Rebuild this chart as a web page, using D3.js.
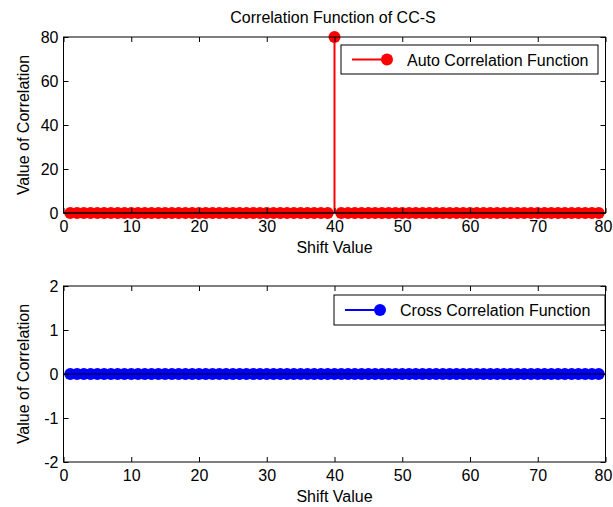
<!DOCTYPE html>
<html><head><meta charset="utf-8">
<script src="https://cdn.jsdelivr.net/npm/d3@7"></script>
<style>
html,body{margin:0;padding:0;background:#fff;}
svg{display:block;font-family:"Liberation Sans",Arial,sans-serif;}
</style></head>
<body>
<svg id="chart" width="613" height="507"></svg>
<script>
const shifts = [1,2,3,4,5,6,7,8,9,10,11,12,13,14,15,16,17,18,19,20,21,22,23,24,25,26,27,28,29,30,31,32,33,34,35,36,37,38,39,40,41,42,43,44,45,46,47,48,49,50,51,52,53,54,55,56,57,58,59,60,61,62,63,64,65,66,67,68,69,70,71,72,73,74,75,76,77,78,79];
const autoValues = [0,0,0,0,0,0,0,0,0,0,0,0,0,0,0,0,0,0,0,0,0,0,0,0,0,0,0,0,0,0,0,0,0,0,0,0,0,0,0,80,0,0,0,0,0,0,0,0,0,0,0,0,0,0,0,0,0,0,0,0,0,0,0,0,0,0,0,0,0,0,0,0,0,0,0,0,0,0,0];
const crossValues = [0,0,0,0,0,0,0,0,0,0,0,0,0,0,0,0,0,0,0,0,0,0,0,0,0,0,0,0,0,0,0,0,0,0,0,0,0,0,0,0,0,0,0,0,0,0,0,0,0,0,0,0,0,0,0,0,0,0,0,0,0,0,0,0,0,0,0,0,0,0,0,0,0,0,0,0,0,0,0];
const xTicks = [0,10,20,30,40,50,60,70,80];
const autoYTicks = [0,20,40,60,80];
const crossYTicks = [-2,-1,0,1,2];
const title = "Correlation Function of CC-S";
const xLabel = "Shift Value";
const yLabel = "Value of Correlation";
const autoLabel = "Auto Correlation Function";
const crossLabel = "Cross Correlation Function";

const svg = d3.select("#chart");
const FS = 16;
const FONT = "Liberation Sans, Arial, sans-serif";
const left = 63.5, right = 605.5;
const fmt = d => String(d);

function panel(cfg) {
  const x = d3.scaleLinear().domain([0, 80]).range([left, right]);
  const y = d3.scaleLinear().domain(cfg.yDomain).range([cfg.bottom, cfg.top]);
  const g = svg.append("g");
  const data = shifts.map((s, i) => ({x: s, y: cfg.values[i]}));

  // stems
  g.append("g").selectAll("line").data(data).join("line")
    .attr("x1", d => x(d.x)).attr("x2", d => x(d.x))
    .attr("y1", y(0)).attr("y2", d => y(d.y))
    .attr("stroke", cfg.color).attr("stroke-width", 2);
  // markers
  g.append("g").selectAll("circle").data(data).join("circle")
    .attr("cx", d => x(d.x)).attr("cy", d => y(d.y)).attr("r", 6)
    .attr("fill", cfg.color);
  // baseline
  g.append("line").attr("x1", x(0)).attr("x2", x(80))
    .attr("y1", y(0)).attr("y2", y(0))
    .attr("stroke", "#000").attr("stroke-width", 1);

  // axes (ticks inward)
  const ax = g.append("g");
  const bx = ax.append("g").attr("transform", `translate(0,${cfg.bottom})`)
    .call(d3.axisBottom(x).tickValues(xTicks).tickFormat(fmt).tickSizeInner(-5).tickSizeOuter(0).tickPadding(8));
  ax.append("g").attr("transform", `translate(0,${cfg.top})`)
    .call(d3.axisTop(x).tickValues(xTicks).tickSizeInner(-5).tickSizeOuter(0).tickFormat(""));
  ax.append("g").attr("transform", `translate(${left},0)`)
    .call(d3.axisLeft(y).tickValues(cfg.yTicks).tickFormat(fmt).tickSizeInner(-5).tickSizeOuter(0).tickPadding(5));
  ax.append("g").attr("transform", `translate(${right},0)`)
    .call(d3.axisRight(y).tickValues(cfg.yTicks).tickSizeInner(-5).tickSizeOuter(0).tickFormat(""));
  ax.selectAll(".domain").remove();
  ax.selectAll("g").attr("font-size", FS).attr("font-family", FONT);
  ax.selectAll("text").attr("fill", "#000");
  ax.selectAll(".tick line").attr("stroke", "#000");
  // keep the last x tick label inside the picture
  bx.selectAll(".tick text").filter(d => d === 80).attr("dx", -2.5);
  // frame
  g.append("rect").attr("x", left).attr("y", cfg.top)
    .attr("width", right - left).attr("height", cfg.bottom - cfg.top)
    .attr("fill", "none").attr("stroke", "#000").attr("stroke-width", 1);

  // labels
  g.append("text").attr("x", (left + right) / 2).attr("y", cfg.bottom + 40)
    .attr("text-anchor", "middle").attr("font-size", FS).text(xLabel);
  g.append("text").attr("transform", `translate(29,${(cfg.top + cfg.bottom) / 2}) rotate(-90)`)
    .attr("text-anchor", "middle").attr("font-size", FS).text(yLabel);

  // legend
  const L = cfg.legend;
  const lg = g.append("g");
  lg.append("rect").attr("x", L.x0).attr("y", L.y0).attr("width", L.x1 - L.x0).attr("height", L.y1 - L.y0)
    .attr("fill", "#fff").attr("stroke", "#000").attr("stroke-width", 1);
  const ym = (L.y0 + L.y1) / 2;
  lg.append("line").attr("x1", L.x0 + 11).attr("x2", L.x0 + 46).attr("y1", ym).attr("y2", ym)
    .attr("stroke", cfg.color).attr("stroke-width", 2);
  lg.append("circle").attr("cx", L.x0 + 46).attr("cy", ym).attr("r", 6).attr("fill", cfg.color);
  lg.append("text").attr("x", L.x0 + 66).attr("y", ym + 6).attr("font-size", FS).text(cfg.label);
}

panel({top: 37, bottom: 213, yDomain: [0, 80], yTicks: autoYTicks, values: autoValues,
       color: "#ff0000", label: autoLabel, legend: {x0: 341, x1: 598, y0: 45, y1: 74}});
panel({top: 286, bottom: 462, yDomain: [-2, 2], yTicks: crossYTicks, values: crossValues,
       color: "#0000ff", label: crossLabel, legend: {x0: 334, x1: 605, y0: 295, y1: 325}});

svg.append("text").attr("x", 333).attr("y", 23).attr("text-anchor", "middle")
  .attr("font-size", FS).text(title);
</script>
</body></html>
